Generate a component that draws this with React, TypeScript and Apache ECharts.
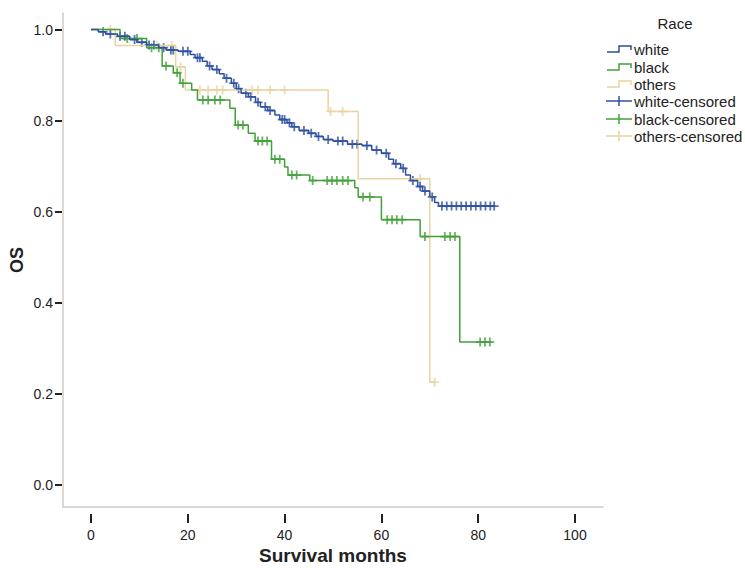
import React, { useEffect, useRef } from "react";
import * as echarts from "echarts";

// Kaplan-Meier step data: [month, survival after event]
const whiteSteps: [number, number][] = [
  [0, 1.0], [1.5, 0.995], [3, 0.99], [5.5, 0.985], [8, 0.978], [9.5, 0.972], [11.5, 0.966],
  [14, 0.96], [15.5, 0.955], [18, 0.952], [20.5, 0.945], [21.5, 0.938], [23, 0.93], [24, 0.92],
  [25, 0.912], [26.5, 0.903], [27.5, 0.893], [29, 0.882], [30, 0.87], [31, 0.86], [32.5, 0.852],
  [34, 0.84], [35, 0.83], [36.5, 0.822], [38, 0.812], [39, 0.802], [40.5, 0.795], [41.5, 0.786],
  [43, 0.778], [45, 0.772], [46.5, 0.765], [48, 0.758], [50, 0.755], [53, 0.748], [56, 0.745],
  [58, 0.735], [60, 0.728], [61.5, 0.715], [62.5, 0.705], [64, 0.695], [65, 0.68], [66, 0.668],
  [67.5, 0.655], [68.5, 0.645], [70, 0.632], [71, 0.62], [71.8, 0.612], [83.5, 0.612],
];
const whiteCensored: number[] = [
  2.5, 4, 6, 7, 9, 10.5, 12, 13, 15, 16.5, 17, 19, 20, 22, 22.5, 24.5, 26, 28, 29.5, 30.5, 32, 33,
  34.5, 36, 37, 39.5, 40, 41, 42, 44, 45.5, 47, 49, 51, 52, 54, 55, 57, 59, 61, 63, 64.5, 66.5, 68,
  69, 70.5, 72.5, 73.5, 74.5, 75.5, 76.5, 77.5, 78.5, 79.5, 80.5, 81.5, 82.5, 83.3,
];

const blackSteps: [number, number][] = [
  [0, 1.0], [6, 0.98], [11.5, 0.96], [14.7, 0.92], [17, 0.905], [18.4, 0.882], [20.8, 0.867],
  [22, 0.845], [28.7, 0.827], [29.8, 0.79], [32.5, 0.772], [33.9, 0.755], [37.3, 0.715],
  [40, 0.698], [40.7, 0.68], [45.2, 0.668], [54.5, 0.652], [55.2, 0.632], [60, 0.582],
  [68, 0.545], [76.2, 0.313], [82.8, 0.313],
];
const blackCensored: number[] = [
  7.5, 9.5, 12.5, 14, 15.5, 17.8, 19, 23.1, 24.2, 25.6, 26.7, 30.4, 31.4, 34.5, 35.4, 36.4, 38, 39,
  41.5, 42.5, 45.8, 48.8, 49.8, 50.8, 52, 53.1, 56.2, 57.6, 61.2, 62.2, 63.2, 64.3, 69, 73.1, 74.2,
  75.2, 80.4, 81.4, 82.4,
];

const othersSteps: [number, number][] = [
  [0, 1.0], [5, 0.965], [17.5, 0.918], [19.5, 0.867], [49, 0.82], [55.2, 0.672], [70, 0.225],
  [71, 0.225],
];
const othersCensored: number[] = [
  4, 13.6, 16.7, 18.5, 22.5, 24.2, 26, 27.2, 33.3, 34.5, 37, 40, 49.5, 52, 68, 71,
];

const xTicks = [0, 20, 40, 60, 80, 100];
const yTicks = [0, 0.2, 0.4, 0.6, 0.8, 1.0];
const legendNames = ["white", "black", "others", "white-censored", "black-censored", "others-censored"];

const BLUE = "#2d4f9f";
const GREEN = "#42a038";
const TAN = "#e9d3a0";
const FONT = "Arial, 'Liberation Sans', sans-serif";

function survivalAt(steps: [number, number][], t: number): number {
  let s = 1;
  for (const [tt, v] of steps) if (tt <= t) s = v;
  return s;
}

const PLUS = "path://M4,0H6V4H10V6H6V10H4V6H0V4H4Z";

export default function App() {
  const ref = useRef<HTMLDivElement>(null);
  useEffect(() => {
    if (!ref.current) return;
    const chart = echarts.init(ref.current, null, { renderer: "svg" });
    const pxPerX = 4.84;
    const xMin = -(91 - 63) / pxPerX;
    const xMax = xMin + 540 / pxPerX;
    const pxPerY = 455;
    const yMax = 1 + 16.5 / pxPerY;
    const yMin = -(507 - 484.5) / pxPerY;

    const groups = [
      { name: "white", steps: whiteSteps, cens: whiteCensored, color: BLUE },
      { name: "black", steps: blackSteps, cens: blackCensored, color: GREEN },
      { name: "others", steps: othersSteps, cens: othersCensored, color: TAN },
    ];
    const series: any[] = [];
    [groups[2], groups[1], groups[0]].forEach((g) => {
      series.push({
        type: "line",
        name: g.name,
        step: "end",
        data: g.steps,
        showSymbol: false,
        symbol: "none",
        lineStyle: { color: g.color, width: 1.5 },
        xAxisIndex: 0,
        yAxisIndex: 0,
        silent: true,
      });
      series.push({
        type: "scatter",
        name: g.name + "-censored",
        data: g.cens.map((t) => [t, survivalAt(g.steps, t)]),
        symbol: PLUS,
        symbolSize: 9,
        itemStyle: { color: g.color },
        xAxisIndex: 0,
        yAxisIndex: 0,
        silent: true,
      });
    });

    const legendColors = [BLUE, GREEN, TAN, BLUE, GREEN, TAN];
    const legendYs = [49, 67, 84, 101, 119, 136];
    const legendGraphics: any[] = [
      {
        type: "text",
        x: 675,
        y: 23,
        style: { text: "Race", fontSize: 15, fontFamily: FONT, fill: "#222", align: "center", verticalAlign: "middle" },
      },
    ];
    legendNames.forEach((n, i) => {
      const y = legendYs[i];
      const c = legendColors[i];
      if (i < 3) {
        legendGraphics.push({
          type: "polyline",
          shape: { points: [[607, y + 3], [619, y + 3], [619, y - 3], [631, y - 3], [631, y + 1]] },
          style: { stroke: c, lineWidth: 1.5, fill: null },
        });
      } else {
        legendGraphics.push({
          type: "line",
          shape: { x1: 606, y1: y, x2: 632, y2: y },
          style: { stroke: c, lineWidth: 1.5 },
        });
        legendGraphics.push({
          type: "line",
          shape: { x1: 619, y1: y - 5, x2: 619, y2: y + 5 },
          style: { stroke: c, lineWidth: 1.5 },
        });
      }
      legendGraphics.push({
        type: "text",
        x: 634,
        y: y,
        style: { text: n, fontSize: 15, fontFamily: FONT, fill: "#222", align: "left", verticalAlign: "middle" },
      });
    });

    chart.setOption({
      animation: false,
      backgroundColor: "#ffffff",
      grid: { left: 63, right: 142, top: 13, bottom: 61, containLabel: false, outerBoundsMode: "none" },
      xAxis: [
        {
          type: "value",
          min: xMin,
          max: xMax,
          position: "bottom",
          axisLine: { show: true, onZero: false, lineStyle: { color: "#cfcac4", width: 1.5 } },
          axisTick: { show: false },
          axisLabel: { show: false },
          splitLine: { show: false },
        },
        {
          type: "value",
          min: xMin,
          max: xMax,
          position: "bottom",
          offset: 7,
          axisLine: { show: false, onZero: false },
          axisTick: { show: true, length: 9, lineStyle: { color: "#222", width: 2 }, customValues: xTicks },
          axisLabel: { show: true, customValues: xTicks, margin: 14, fontSize: 14, color: "#222", fontFamily: FONT },
          splitLine: { show: false },
          name: "Survival months",
          nameLocation: "middle",
          nameGap: 32,
          nameMoveOverlap: false,
          nameTextStyle: { fontSize: 19, fontWeight: "bold", color: "#222", fontFamily: FONT },
        },
      ],
      yAxis: [
        {
          type: "value",
          min: yMin,
          max: yMax,
          position: "left",
          axisLine: { show: true, onZero: false, lineStyle: { color: "#cfcac4", width: 1.5 } },
          axisTick: { show: false },
          axisLabel: { show: false },
          splitLine: { show: false },
        },
        {
          type: "value",
          min: yMin,
          max: yMax,
          position: "left",
          offset: 1,
          axisLine: { show: false, onZero: false },
          axisTick: { show: true, length: 7, lineStyle: { color: "#222", width: 2 }, customValues: yTicks },
          axisLabel: {
            show: true,
            customValues: yTicks,
            margin: 9,
            fontSize: 14,
            color: "#222",
            fontFamily: FONT,
            formatter: (v: number) => v.toFixed(1),
          },
          splitLine: { show: false },
          name: "OS",
          nameLocation: "middle",
          nameRotate: 90,
          nameGap: 36,
          nameMoveOverlap: false,
          nameTextStyle: { fontSize: 18, fontWeight: "bold", color: "#222", fontFamily: FONT },
        },
      ],
      series,
      graphic: legendGraphics,
    });
    return () => chart.dispose();
  }, []);
  return <div ref={ref} style={{ position: "fixed", left: 0, top: 0, width: 745, height: 568 }} />;
}
